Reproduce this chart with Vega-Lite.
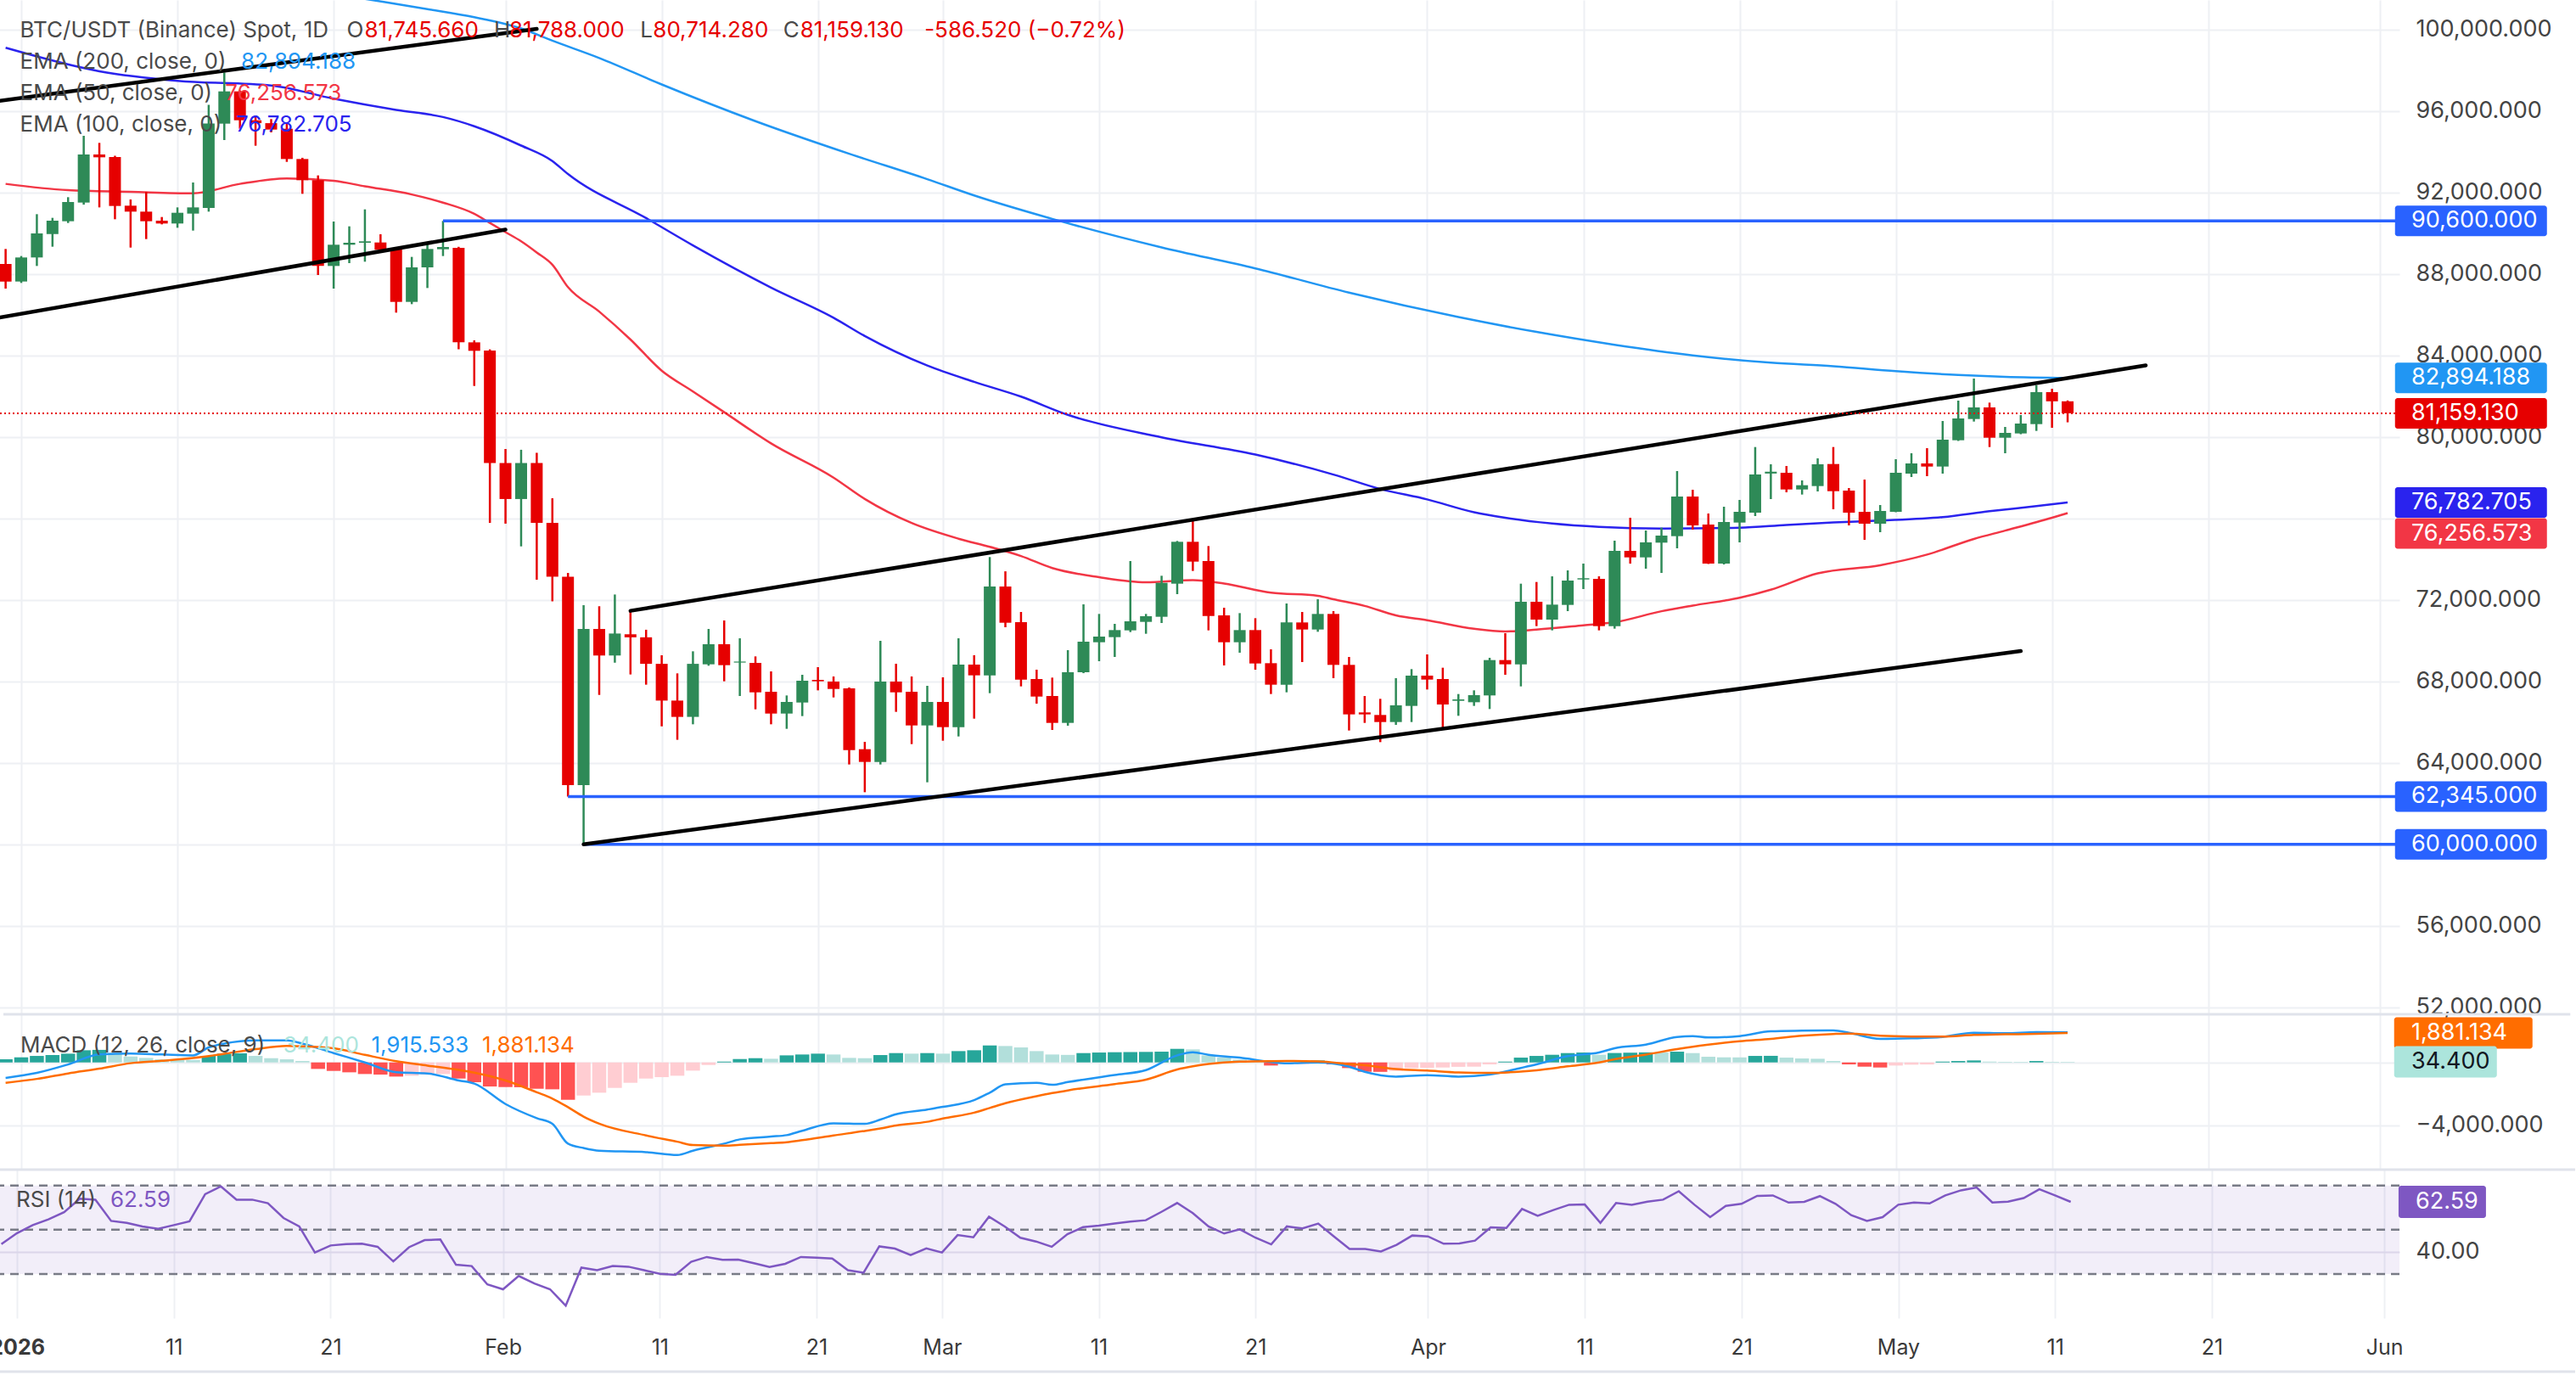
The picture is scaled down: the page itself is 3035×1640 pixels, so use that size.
{
"$schema": "https://vega.github.io/schema/vega-lite/v6.json",
"background": "white",
"padding": {"left": -13, "top": 0, "right": 0, "bottom": 0},
"bounds": "flush",
"spacing": 0,
"config": {"view": {"stroke": null}, "font": "Inter"},
"resolve": {"scale": {"x": "independent", "y": "independent", "color": "independent"}},
"datasets": {
"one": [{"k": 1}],
"candles": [
{"date":"2025-12-31","open":88488,"high":89224,"low":87279,"close":87626},
{"date":"2026-01-01","open":87626,"high":88877,"low":87557,"close":88807},
{"date":"2026-01-02","open":88807,"high":90932,"low":88390,"close":89988},
{"date":"2026-01-03","open":89960,"high":90752,"low":89335,"close":90613},
{"date":"2026-01-04","open":90585,"high":91766,"low":90500,"close":91529},
{"date":"2026-01-05","open":91502,"high":94779,"low":91400,"close":93863},
{"date":"2026-01-06","open":93863,"high":94432,"low":91265,"close":93724},
{"date":"2026-01-07","open":93738,"high":93800,"low":90682,"close":91335},
{"date":"2026-01-08","open":91349,"high":91654,"low":89293,"close":91057},
{"date":"2026-01-09","open":91057,"high":92029,"low":89710,"close":90585},
{"date":"2026-01-10","open":90613,"high":90793,"low":90432,"close":90474},
{"date":"2026-01-11","open":90474,"high":91265,"low":90265,"close":91001},
{"date":"2026-01-12","open":90960,"high":92488,"low":90126,"close":91265},
{"date":"2026-01-13","open":91237,"high":96300,"low":91057,"close":95380},
{"date":"2026-01-14","open":95376,"high":97890,"low":94571,"close":96960},
{"date":"2026-01-15","open":96960,"high":97000,"low":95126,"close":95543},
{"date":"2026-01-16","open":95543,"high":95700,"low":94293,"close":95400},
{"date":"2026-01-17","open":95400,"high":95600,"low":94950,"close":95085},
{"date":"2026-01-18","open":95126,"high":95400,"low":93500,"close":93640},
{"date":"2026-01-19","open":93640,"high":93700,"low":91932,"close":92599},
{"date":"2026-01-20","open":92599,"high":92835,"low":87946,"close":88390},
{"date":"2026-01-21","open":88390,"high":90571,"low":87279,"close":89432},
{"date":"2026-01-22","open":89432,"high":90335,"low":88529,"close":89529},
{"date":"2026-01-23","open":89529,"high":91168,"low":88599,"close":89599},
{"date":"2026-01-24","open":89543,"high":89946,"low":89100,"close":89182},
{"date":"2026-01-25","open":89196,"high":89300,"low":86099,"close":86626},
{"date":"2026-01-26","open":86626,"high":88835,"low":86515,"close":88321},
{"date":"2026-01-27","open":88321,"high":89529,"low":87307,"close":89224},
{"date":"2026-01-28","open":89210,"high":90600,"low":88877,"close":89321},
{"date":"2026-01-29","open":89280,"high":89330,"low":84300,"close":84640},
{"date":"2026-01-30","open":84640,"high":84738,"low":82500,"close":84224},
{"date":"2026-01-31","open":84240,"high":84296,"low":75777,"close":78716},
{"date":"2026-02-01","open":78716,"high":79404,"low":75740,"close":76949},
{"date":"2026-02-02","open":76949,"high":79367,"low":74624,"close":78716},
{"date":"2026-02-03","open":78716,"high":79218,"low":72988,"close":75777},
{"date":"2026-02-04","open":75777,"high":76986,"low":71927,"close":73136},
{"date":"2026-02-05","open":73136,"high":73322,"low":62345,"close":62906},
{"date":"2026-02-06","open":62906,"high":71741,"low":60000,"close":70569},
{"date":"2026-02-07","open":70569,"high":71685,"low":67333,"close":69267},
{"date":"2026-02-08","open":69267,"high":72262,"low":68914,"close":70346},
{"date":"2026-02-09","open":70309,"high":71462,"low":68337,"close":70160},
{"date":"2026-02-10","open":70160,"high":70532,"low":67835,"close":68858},
{"date":"2026-02-11","open":68858,"high":69279,"low":65789,"close":67054},
{"date":"2026-02-12","open":67054,"high":68390,"low":65130,"close":66254},
{"date":"2026-02-13","open":66254,"high":69473,"low":65890,"close":68858},
{"date":"2026-02-14","open":68834,"high":70570,"low":68765,"close":69820},
{"date":"2026-02-15","open":69820,"high":70987,"low":68001,"close":68793},
{"date":"2026-02-16","open":68920,"high":70112,"low":67279,"close":68970},
{"date":"2026-02-17","open":68904,"high":69223,"low":66626,"close":67459},
{"date":"2026-02-18","open":67487,"high":68487,"low":65890,"close":66417},
{"date":"2026-02-19","open":66417,"high":67306,"low":65668,"close":66987},
{"date":"2026-02-20","open":66959,"high":68320,"low":66293,"close":68029},
{"date":"2026-02-21","open":68070,"high":68696,"low":67556,"close":68001},
{"date":"2026-02-22","open":67987,"high":68237,"low":67209,"close":67626},
{"date":"2026-02-23","open":67654,"high":67700,"low":63918,"close":64626},
{"date":"2026-02-24","open":64668,"high":65029,"low":62556,"close":64043},
{"date":"2026-02-25","open":64043,"high":69987,"low":63918,"close":67987},
{"date":"2026-02-26","open":67987,"high":68862,"low":66501,"close":67459},
{"date":"2026-02-27","open":67487,"high":68237,"low":64918,"close":65834},
{"date":"2026-02-28","open":65834,"high":67779,"low":63043,"close":66987},
{"date":"2026-03-01","open":66987,"high":68195,"low":65084,"close":65751},
{"date":"2026-03-02","open":65751,"high":70112,"low":65293,"close":68820},
{"date":"2026-03-03","open":68820,"high":69279,"low":66168,"close":68293},
{"date":"2026-03-04","open":68293,"high":74100,"low":67418,"close":72654},
{"date":"2026-03-05","open":72654,"high":73400,"low":70654,"close":70876},
{"date":"2026-03-06","open":70904,"high":71404,"low":67751,"close":68084},
{"date":"2026-03-07","open":68112,"high":68571,"low":66904,"close":67251},
{"date":"2026-03-08","open":67279,"high":68182,"low":65612,"close":65959},
{"date":"2026-03-09","open":65959,"high":69529,"low":65821,"close":68446},
{"date":"2026-03-10","open":68446,"high":71779,"low":68400,"close":69946},
{"date":"2026-03-11","open":69918,"high":71307,"low":68987,"close":70196},
{"date":"2026-03-12","open":70168,"high":70821,"low":69196,"close":70515},
{"date":"2026-03-13","open":70501,"high":73904,"low":70418,"close":70946},
{"date":"2026-03-14","open":70918,"high":71307,"low":70334,"close":71196},
{"date":"2026-03-15","open":71168,"high":73182,"low":70862,"close":72835},
{"date":"2026-03-16","open":72793,"high":74890,"low":72279,"close":74849},
{"date":"2026-03-17","open":74849,"high":75960,"low":73418,"close":73876},
{"date":"2026-03-18","open":73904,"high":74640,"low":70501,"close":71210},
{"date":"2026-03-19","open":71237,"high":71612,"low":68779,"close":69918},
{"date":"2026-03-20","open":69918,"high":71348,"low":69404,"close":70515},
{"date":"2026-03-21","open":70515,"high":71098,"low":68571,"close":68876},
{"date":"2026-03-22","open":68890,"high":69571,"low":67376,"close":67835},
{"date":"2026-03-23","open":67835,"high":71821,"low":67460,"close":70890},
{"date":"2026-03-24","open":70890,"high":71404,"low":68946,"close":70543},
{"date":"2026-03-25","open":70543,"high":72029,"low":70432,"close":71307},
{"date":"2026-03-26","open":71307,"high":71446,"low":68154,"close":68807},
{"date":"2026-03-27","open":68807,"high":69196,"low":65585,"close":66376},
{"date":"2026-03-28","open":66473,"high":67279,"low":65959,"close":66376},
{"date":"2026-03-29","open":66348,"high":67140,"low":65015,"close":66001},
{"date":"2026-03-30","open":66001,"high":68154,"low":65862,"close":66821},
{"date":"2026-03-31","open":66793,"high":68599,"low":66001,"close":68279},
{"date":"2026-04-01","open":68279,"high":69321,"low":67598,"close":68085},
{"date":"2026-04-02","open":68112,"high":68668,"low":65723,"close":66862},
{"date":"2026-04-03","open":67043,"high":67376,"low":66307,"close":67112},
{"date":"2026-04-04","open":66973,"high":67557,"low":66793,"close":67321},
{"date":"2026-04-05","open":67307,"high":69154,"low":66640,"close":69043},
{"date":"2026-04-06","open":69043,"high":70362,"low":68321,"close":68835},
{"date":"2026-04-07","open":68835,"high":72793,"low":67751,"close":71904},
{"date":"2026-04-08","open":71904,"high":72876,"low":70710,"close":71029},
{"date":"2026-04-09","open":71029,"high":73154,"low":70501,"close":71765},
{"date":"2026-04-10","open":71751,"high":73446,"low":71446,"close":72946},
{"date":"2026-04-11","open":73000,"high":73779,"low":72529,"close":73060},
{"date":"2026-04-12","open":73029,"high":73154,"low":70501,"close":70710},
{"date":"2026-04-13","open":70710,"high":74904,"low":70585,"close":74404},
{"date":"2026-04-14","open":74404,"high":76029,"low":73779,"close":74084},
{"date":"2026-04-15","open":74084,"high":75404,"low":73529,"close":74821},
{"date":"2026-04-16","open":74807,"high":75543,"low":73321,"close":75154},
{"date":"2026-04-17","open":75126,"high":78321,"low":74529,"close":77071},
{"date":"2026-04-18","open":77071,"high":77404,"low":75446,"close":75654},
{"date":"2026-04-19","open":75696,"high":76237,"low":73760,"close":73779},
{"date":"2026-04-20","open":73779,"high":76571,"low":73737,"close":75821},
{"date":"2026-04-21","open":75793,"high":76904,"low":74821,"close":76321},
{"date":"2026-04-22","open":76279,"high":79501,"low":76112,"close":78154},
{"date":"2026-04-23","open":78200,"high":78654,"low":76946,"close":78290},
{"date":"2026-04-24","open":78237,"high":78571,"low":77279,"close":77418},
{"date":"2026-04-25","open":77418,"high":77862,"low":77168,"close":77626},
{"date":"2026-04-26","open":77585,"high":78946,"low":77321,"close":78654},
{"date":"2026-04-27","open":78667,"high":79501,"low":76445,"close":77334},
{"date":"2026-04-28","open":77362,"high":77487,"low":75654,"close":76279},
{"date":"2026-04-29","open":76320,"high":77904,"low":74945,"close":75737},
{"date":"2026-04-30","open":75737,"high":76654,"low":75320,"close":76362},
{"date":"2026-05-01","open":76320,"high":78904,"low":76300,"close":78237},
{"date":"2026-05-02","open":78195,"high":79195,"low":78029,"close":78695},
{"date":"2026-05-03","open":78695,"high":79445,"low":78070,"close":78543},
{"date":"2026-05-04","open":78543,"high":80779,"low":78195,"close":79862},
{"date":"2026-05-05","open":79834,"high":81779,"low":79800,"close":80904},
{"date":"2026-05-06","open":80876,"high":82862,"low":80751,"close":81445},
{"date":"2026-05-07","open":81445,"high":81681,"low":79501,"close":79959},
{"date":"2026-05-08","open":79959,"high":80487,"low":79195,"close":80195},
{"date":"2026-05-09","open":80168,"high":81070,"low":80130,"close":80654},
{"date":"2026-05-10","open":80626,"high":82529,"low":80293,"close":82195},
{"date":"2026-05-11","open":82195,"high":82362,"low":80445,"close":81745.66},
{"date":"2026-05-12","open":81745.66,"high":81788,"low":80714.28,"close":81159.13}
],
"ema": [
{"series":"EMA 200","date":"2025-12-31","value":104200},
{"series":"EMA 200","date":"2026-01-09","value":103100},
{"series":"EMA 200","date":"2026-01-17","value":102250},
{"series":"EMA 200","date":"2026-01-23","value":101500},
{"series":"EMA 200","date":"2026-01-27","value":101000},
{"series":"EMA 200","date":"2026-01-30","value":100600},
{"series":"EMA 200","date":"2026-02-02","value":100050},
{"series":"EMA 200","date":"2026-02-04","value":99450},
{"series":"EMA 200","date":"2026-02-07","value":98600},
{"series":"EMA 200","date":"2026-02-11","value":97300},
{"series":"EMA 200","date":"2026-02-17","value":95500},
{"series":"EMA 200","date":"2026-02-23","value":93900},
{"series":"EMA 200","date":"2026-02-28","value":92650},
{"series":"EMA 200","date":"2026-03-03","value":91850},
{"series":"EMA 200","date":"2026-03-08","value":90700},
{"series":"EMA 200","date":"2026-03-15","value":89300},
{"series":"EMA 200","date":"2026-03-21","value":88270},
{"series":"EMA 200","date":"2026-03-27","value":87080},
{"series":"EMA 200","date":"2026-04-03","value":85880},
{"series":"EMA 200","date":"2026-04-08","value":85150},
{"series":"EMA 200","date":"2026-04-13","value":84520},
{"series":"EMA 200","date":"2026-04-18","value":84000},
{"series":"EMA 200","date":"2026-04-23","value":83640},
{"series":"EMA 200","date":"2026-04-27","value":83470},
{"series":"EMA 200","date":"2026-05-01","value":83225},
{"series":"EMA 200","date":"2026-05-05","value":83040},
{"series":"EMA 200","date":"2026-05-08","value":82950},
{"series":"EMA 200","date":"2026-05-12","value":82894.188},
{"series":"EMA 100","date":"2025-12-31","value":99100},
{"series":"EMA 100","date":"2026-01-06","value":97950},
{"series":"EMA 100","date":"2026-01-11","value":97480},
{"series":"EMA 100","date":"2026-01-17","value":97250},
{"series":"EMA 100","date":"2026-01-21","value":96600},
{"series":"EMA 100","date":"2026-01-25","value":96050},
{"series":"EMA 100","date":"2026-01-28","value":95700},
{"series":"EMA 100","date":"2026-01-30","value":95250},
{"series":"EMA 100","date":"2026-02-02","value":94300},
{"series":"EMA 100","date":"2026-02-04","value":93540},
{"series":"EMA 100","date":"2026-02-05","value":92900},
{"series":"EMA 100","date":"2026-02-10","value":90740},
{"series":"EMA 100","date":"2026-02-13","value":89400},
{"series":"EMA 100","date":"2026-02-18","value":87330},
{"series":"EMA 100","date":"2026-02-22","value":85850},
{"series":"EMA 100","date":"2026-02-24","value":84950},
{"series":"EMA 100","date":"2026-02-28","value":83500},
{"series":"EMA 100","date":"2026-03-03","value":82700},
{"series":"EMA 100","date":"2026-03-06","value":81975},
{"series":"EMA 100","date":"2026-03-09","value":81080},
{"series":"EMA 100","date":"2026-03-15","value":79980},
{"series":"EMA 100","date":"2026-03-21","value":79130},
{"series":"EMA 100","date":"2026-03-26","value":78150},
{"series":"EMA 100","date":"2026-03-29","value":77440},
{"series":"EMA 100","date":"2026-04-01","value":76930},
{"series":"EMA 100","date":"2026-04-04","value":76300},
{"series":"EMA 100","date":"2026-04-06","value":76030},
{"series":"EMA 100","date":"2026-04-09","value":75750},
{"series":"EMA 100","date":"2026-04-12","value":75584},
{"series":"EMA 100","date":"2026-04-16","value":75500},
{"series":"EMA 100","date":"2026-04-21","value":75540},
{"series":"EMA 100","date":"2026-04-24","value":75680},
{"series":"EMA 100","date":"2026-04-27","value":75800},
{"series":"EMA 100","date":"2026-04-30","value":75890},
{"series":"EMA 100","date":"2026-05-04","value":76060},
{"series":"EMA 100","date":"2026-05-07","value":76350},
{"series":"EMA 100","date":"2026-05-10","value":76600},
{"series":"EMA 100","date":"2026-05-12","value":76782.705},
{"series":"EMA 50","date":"2025-12-31","value":92420},
{"series":"EMA 50","date":"2026-01-04","value":92110},
{"series":"EMA 50","date":"2026-01-08","value":92030},
{"series":"EMA 50","date":"2026-01-12","value":91960},
{"series":"EMA 50","date":"2026-01-15","value":92420},
{"series":"EMA 50","date":"2026-01-18","value":92690},
{"series":"EMA 50","date":"2026-01-21","value":92570},
{"series":"EMA 50","date":"2026-01-23","value":92300},
{"series":"EMA 50","date":"2026-01-26","value":91900},
{"series":"EMA 50","date":"2026-01-28","value":91500},
{"series":"EMA 50","date":"2026-01-30","value":90950},
{"series":"EMA 50","date":"2026-01-31","value":90500},
{"series":"EMA 50","date":"2026-02-01","value":90050},
{"series":"EMA 50","date":"2026-02-02","value":89600},
{"series":"EMA 50","date":"2026-02-03","value":89050},
{"series":"EMA 50","date":"2026-02-04","value":88450},
{"series":"EMA 50","date":"2026-02-05","value":87350},
{"series":"EMA 50","date":"2026-02-07","value":86150},
{"series":"EMA 50","date":"2026-02-09","value":84780},
{"series":"EMA 50","date":"2026-02-11","value":83250},
{"series":"EMA 50","date":"2026-02-13","value":82230},
{"series":"EMA 50","date":"2026-02-15","value":81210},
{"series":"EMA 50","date":"2026-02-18","value":79680},
{"series":"EMA 50","date":"2026-02-22","value":78000},
{"series":"EMA 50","date":"2026-02-24","value":76950},
{"series":"EMA 50","date":"2026-02-27","value":75770},
{"series":"EMA 50","date":"2026-03-02","value":75000},
{"series":"EMA 50","date":"2026-03-04","value":74600},
{"series":"EMA 50","date":"2026-03-06","value":74150},
{"series":"EMA 50","date":"2026-03-08","value":73560},
{"series":"EMA 50","date":"2026-03-11","value":73110},
{"series":"EMA 50","date":"2026-03-14","value":72860},
{"series":"EMA 50","date":"2026-03-17","value":72970},
{"series":"EMA 50","date":"2026-03-19","value":72800},
{"series":"EMA 50","date":"2026-03-22","value":72350},
{"series":"EMA 50","date":"2026-03-25","value":72200},
{"series":"EMA 50","date":"2026-03-26","value":72030},
{"series":"EMA 50","date":"2026-03-28","value":71700},
{"series":"EMA 50","date":"2026-03-30","value":71240},
{"series":"EMA 50","date":"2026-04-01","value":71000},
{"series":"EMA 50","date":"2026-04-04","value":70580},
{"series":"EMA 50","date":"2026-04-06","value":70450},
{"series":"EMA 50","date":"2026-04-08","value":70540},
{"series":"EMA 50","date":"2026-04-11","value":70750},
{"series":"EMA 50","date":"2026-04-13","value":70900},
{"series":"EMA 50","date":"2026-04-16","value":71440},
{"series":"EMA 50","date":"2026-04-18","value":71720},
{"series":"EMA 50","date":"2026-04-21","value":72100},
{"series":"EMA 50","date":"2026-04-23","value":72500},
{"series":"EMA 50","date":"2026-04-26","value":73300},
{"series":"EMA 50","date":"2026-04-30","value":73700},
{"series":"EMA 50","date":"2026-05-03","value":74220},
{"series":"EMA 50","date":"2026-05-06","value":74990},
{"series":"EMA 50","date":"2026-05-08","value":75400},
{"series":"EMA 50","date":"2026-05-11","value":76030},
{"series":"EMA 50","date":"2026-05-12","value":76256.573}
],
"levels": [
{"start":"2026-01-28","value":90600},
{"start":"2026-02-05","value":62345},
{"start":"2026-02-06","value":60000}
],
"trend": [
{"id":"jan_upper","date":"2025-12-30","price":96429},
{"id":"jan_upper","date":"2026-02-03","price":100027},
{"id":"jan_lower","date":"2025-12-30","price":85778},
{"id":"jan_lower","date":"2026-02-01","price":90174},
{"id":"ch_upper","date":"2026-02-09","price":71462},
{"id":"ch_upper","date":"2026-05-17","price":83510},
{"id":"ch_lower","date":"2026-02-06","price":60000},
{"id":"ch_lower","date":"2026-05-09","price":69490}
],
"tags": [
{"name":"level1","value":90600,"label":"90,600.000"},
{"name":"ema200","value":82894.188,"label":"82,894.188"},
{"name":"last","value":81159.13,"label":"81,159.130"},
{"name":"ema100","value":76782.705,"label":"76,782.705"},
{"name":"ema50","value":76256.573,"label":"76,256.573"},
{"name":"level2","value":62345,"label":"62,345.000"},
{"name":"level3","value":60000,"label":"60,000.000"}
],
"macd": [
{"date":"2025-12-31","macd":-990,"signal":-1300},
{"date":"2026-01-02","macd":-667,"signal":-1050},
{"date":"2026-01-04","macd":-130,"signal":-700},
{"date":"2026-01-06","macd":505,"signal":-396},
{"date":"2026-01-08","macd":559,"signal":-50},
{"date":"2026-01-10","macd":505,"signal":100},
{"date":"2026-01-12","macd":450,"signal":280},
{"date":"2026-01-13","macd":955,"signal":400},
{"date":"2026-01-14","macd":1200,"signal":550},
{"date":"2026-01-16","macd":1405,"signal":850},
{"date":"2026-01-18","macd":1405,"signal":1050},
{"date":"2026-01-19","macd":1200,"signal":1030},
{"date":"2026-01-21","macd":595,"signal":900},
{"date":"2026-01-23","macd":0,"signal":480},
{"date":"2026-01-25","macd":-620,"signal":80},
{"date":"2026-01-27","macd":-700,"signal":-200},
{"date":"2026-01-29","macd":-1150,"signal":-480},
{"date":"2026-01-30","macd":-1350,"signal":-650},
{"date":"2026-02-01","macd":-2649,"signal":-1150},
{"date":"2026-02-03","macd":-3550,"signal":-1900},
{"date":"2026-02-04","macd":-3910,"signal":-2300},
{"date":"2026-02-05","macd":-5172,"signal":-2850},
{"date":"2026-02-06","macd":-5450,"signal":-3450},
{"date":"2026-02-07","macd":-5622,"signal":-3900},
{"date":"2026-02-10","macd":-5712,"signal":-4650},
{"date":"2026-02-12","macd":-5892,"signal":-5050},
{"date":"2026-02-13","macd":-5622,"signal":-5262},
{"date":"2026-02-15","macd":-5172,"signal":-5298},
{"date":"2026-02-16","macd":-4901,"signal":-5250},
{"date":"2026-02-18","macd":-4721,"signal":-5136},
{"date":"2026-02-19","macd":-4631,"signal":-5080},
{"date":"2026-02-20","macd":-4350,"signal":-4950},
{"date":"2026-02-22","macd":-3874,"signal":-4650},
{"date":"2026-02-24","macd":-3910,"signal":-4361},
{"date":"2026-02-25","macd":-3640,"signal":-4200},
{"date":"2026-02-26","macd":-3300,"signal":-4020},
{"date":"2026-02-28","macd":-3000,"signal":-3780},
{"date":"2026-03-01","macd":-2829,"signal":-3570},
{"date":"2026-03-03","macd":-2400,"signal":-3200},
{"date":"2026-03-04","macd":-1928,"signal":-2900},
{"date":"2026-03-05","macd":-1400,"signal":-2600},
{"date":"2026-03-07","macd":-1297,"signal":-2150},
{"date":"2026-03-08","macd":-1424,"signal":-1950},
{"date":"2026-03-09","macd":-1250,"signal":-1780},
{"date":"2026-03-12","macd":-800,"signal":-1380},
{"date":"2026-03-14","macd":-487,"signal":-1100},
{"date":"2026-03-16","macd":450,"signal":-450},
{"date":"2026-03-17","macd":650,"signal":-250},
{"date":"2026-03-18","macd":487,"signal":-100},
{"date":"2026-03-20","macd":306,"signal":54},
{"date":"2026-03-22","macd":30,"signal":85},
{"date":"2026-03-23","macd":-54,"signal":90},
{"date":"2026-03-25","macd":0,"signal":60},
{"date":"2026-03-27","macd":-270,"signal":-100},
{"date":"2026-03-28","macd":-600,"signal":-180},
{"date":"2026-03-30","macd":-901,"signal":-420},
{"date":"2026-04-01","macd":-811,"signal":-520},
{"date":"2026-04-03","macd":-901,"signal":-640},
{"date":"2026-04-05","macd":-775,"signal":-667},
{"date":"2026-04-07","macd":-350,"signal":-580},
{"date":"2026-04-08","macd":-126,"signal":-500},
{"date":"2026-04-10","macd":400,"signal":-250},
{"date":"2026-04-12","macd":631,"signal":0},
{"date":"2026-04-13","macd":901,"signal":200},
{"date":"2026-04-15","macd":1135,"signal":500},
{"date":"2026-04-17","macd":1622,"signal":850},
{"date":"2026-04-18","macd":1676,"signal":1000},
{"date":"2026-04-19","macd":1586,"signal":1130},
{"date":"2026-04-21","macd":1676,"signal":1350},
{"date":"2026-04-23","macd":1982,"signal":1500},
{"date":"2026-04-25","macd":2018,"signal":1700},
{"date":"2026-04-27","macd":2036,"signal":1810},
{"date":"2026-04-28","macd":1892,"signal":1838},
{"date":"2026-04-30","macd":1496,"signal":1700},
{"date":"2026-05-02","macd":1532,"signal":1650},
{"date":"2026-05-04","macd":1622,"signal":1640},
{"date":"2026-05-06","macd":1892,"signal":1750},
{"date":"2026-05-08","macd":1856,"signal":1790},
{"date":"2026-05-10","macd":1928,"signal":1820},
{"date":"2026-05-12","macd":1915.533,"signal":1881.134}
],
"hist": [
{"date":"2025-12-31","h":198},{"date":"2026-01-01","h":324},{"date":"2026-01-02","h":414},{"date":"2026-01-03","h":469},{"date":"2026-01-04","h":559},{"date":"2026-01-05","h":775},{"date":"2026-01-06","h":800},{"date":"2026-01-07","h":595},{"date":"2026-01-08","h":378},{"date":"2026-01-09","h":288},{"date":"2026-01-10","h":198},{"date":"2026-01-11","h":180},{"date":"2026-01-12","h":150},{"date":"2026-01-13","h":414},{"date":"2026-01-14","h":559},{"date":"2026-01-15","h":580},{"date":"2026-01-16","h":414},{"date":"2026-01-17","h":270},{"date":"2026-01-18","h":198},{"date":"2026-01-19","h":90},{"date":"2026-01-20","h":-414},{"date":"2026-01-21","h":-540},{"date":"2026-01-22","h":-630},{"date":"2026-01-23","h":-739},{"date":"2026-01-24","h":-775},{"date":"2026-01-25","h":-901},{"date":"2026-01-26","h":-847},{"date":"2026-01-27","h":-775},{"date":"2026-01-28","h":-740},{"date":"2026-01-29","h":-1027},{"date":"2026-01-30","h":-1261},{"date":"2026-01-31","h":-1532},
{"date":"2026-02-01","h":-1568},{"date":"2026-02-02","h":-1580},{"date":"2026-02-03","h":-1676},{"date":"2026-02-04","h":-1712},{"date":"2026-02-05","h":-2379},{"date":"2026-02-06","h":-2108},{"date":"2026-02-07","h":-1928},{"date":"2026-02-08","h":-1622},{"date":"2026-02-09","h":-1297},{"date":"2026-02-10","h":-1027},{"date":"2026-02-11","h":-937},{"date":"2026-02-12","h":-847},{"date":"2026-02-13","h":-523},{"date":"2026-02-14","h":-162},{"date":"2026-02-15","h":54},{"date":"2026-02-16","h":216},{"date":"2026-02-17","h":270},{"date":"2026-02-18","h":234},{"date":"2026-02-19","h":450},{"date":"2026-02-20","h":505},{"date":"2026-02-21","h":559},{"date":"2026-02-22","h":505},{"date":"2026-02-23","h":288},{"date":"2026-02-24","h":270},{"date":"2026-02-25","h":469},{"date":"2026-02-26","h":595},{"date":"2026-02-27","h":559},{"date":"2026-02-28","h":595},
{"date":"2026-03-01","h":559},{"date":"2026-03-02","h":721},{"date":"2026-03-03","h":775},{"date":"2026-03-04","h":1081},{"date":"2026-03-05","h":1045},{"date":"2026-03-06","h":955},{"date":"2026-03-07","h":721},{"date":"2026-03-08","h":505},{"date":"2026-03-09","h":480},{"date":"2026-03-10","h":595},{"date":"2026-03-11","h":630},{"date":"2026-03-12","h":650},{"date":"2026-03-13","h":660},{"date":"2026-03-14","h":670},{"date":"2026-03-15","h":685},{"date":"2026-03-16","h":865},{"date":"2026-03-17","h":830},{"date":"2026-03-18","h":450},{"date":"2026-03-19","h":306},{"date":"2026-03-20","h":180},{"date":"2026-03-21","h":90},{"date":"2026-03-22","h":-198},{"date":"2026-03-23","h":-126},{"date":"2026-03-24","h":-100},{"date":"2026-03-25","h":126},{"date":"2026-03-26","h":-126},{"date":"2026-03-27","h":-360},{"date":"2026-03-28","h":-595},{"date":"2026-03-29","h":-600},{"date":"2026-03-30","h":-540},{"date":"2026-03-31","h":-360},
{"date":"2026-04-01","h":-340},{"date":"2026-04-02","h":-324},{"date":"2026-04-03","h":-280},{"date":"2026-04-04","h":-270},{"date":"2026-04-05","h":-126},{"date":"2026-04-06","h":54},{"date":"2026-04-07","h":306},{"date":"2026-04-08","h":414},{"date":"2026-04-09","h":487},{"date":"2026-04-10","h":595},{"date":"2026-04-11","h":631},{"date":"2026-04-12","h":487},{"date":"2026-04-13","h":600},{"date":"2026-04-14","h":620},{"date":"2026-04-15","h":640},{"date":"2026-04-16","h":630},{"date":"2026-04-17","h":685},{"date":"2026-04-18","h":595},{"date":"2026-04-19","h":360},{"date":"2026-04-20","h":324},{"date":"2026-04-21","h":320},{"date":"2026-04-22","h":414},{"date":"2026-04-23","h":420},{"date":"2026-04-24","h":306},{"date":"2026-04-25","h":252},{"date":"2026-04-26","h":234},{"date":"2026-04-27","h":90},{"date":"2026-04-28","h":-126},{"date":"2026-04-29","h":-270},{"date":"2026-04-30","h":-324},
{"date":"2026-05-01","h":-198},{"date":"2026-05-02","h":-144},{"date":"2026-05-03","h":-130},{"date":"2026-05-04","h":54},{"date":"2026-05-05","h":90},{"date":"2026-05-06","h":126},{"date":"2026-05-07","h":54},{"date":"2026-05-08","h":40},{"date":"2026-05-09","h":36},{"date":"2026-05-10","h":90},{"date":"2026-05-11","h":40},{"date":"2026-05-12","h":34.4}
],
"rsi": [
{"date":"2025-12-31","rsi":43.5},{"date":"2026-01-01","rsi":48.5},{"date":"2026-01-02","rsi":52.1},{"date":"2026-01-03","rsi":54.7},{"date":"2026-01-04","rsi":57.9},{"date":"2026-01-05","rsi":64.0},{"date":"2026-01-06","rsi":63.6},{"date":"2026-01-07","rsi":54.0},{"date":"2026-01-08","rsi":53.1},{"date":"2026-01-09","rsi":51.5},{"date":"2026-01-10","rsi":50.4},{"date":"2026-01-11","rsi":52.1},{"date":"2026-01-12","rsi":53.8},{"date":"2026-01-13","rsi":66.1},{"date":"2026-01-14","rsi":69.6},{"date":"2026-01-15","rsi":63.6},{"date":"2026-01-16","rsi":63.6},{"date":"2026-01-17","rsi":62.0},{"date":"2026-01-18","rsi":55.3},{"date":"2026-01-19","rsi":51.5},{"date":"2026-01-20","rsi":39.7},{"date":"2026-01-21","rsi":42.9},{"date":"2026-01-22","rsi":43.5},{"date":"2026-01-23","rsi":43.7},{"date":"2026-01-24","rsi":42.3},{"date":"2026-01-25","rsi":35.7},{"date":"2026-01-26","rsi":42.1},{"date":"2026-01-27","rsi":45.3},{"date":"2026-01-28","rsi":45.6},{"date":"2026-01-29","rsi":34.2},{"date":"2026-01-30","rsi":33.6},{"date":"2026-01-31","rsi":25.3},
{"date":"2026-02-01","rsi":23.1},{"date":"2026-02-02","rsi":29.1},{"date":"2026-02-03","rsi":25.7},{"date":"2026-02-04","rsi":23.1},{"date":"2026-02-05","rsi":15.7},{"date":"2026-02-06","rsi":32.9},{"date":"2026-02-07","rsi":31.7},{"date":"2026-02-08","rsi":33.6},{"date":"2026-02-09","rsi":33.3},{"date":"2026-02-10","rsi":31.7},{"date":"2026-02-11","rsi":30.1},{"date":"2026-02-12","rsi":29.6},{"date":"2026-02-13","rsi":35.5},{"date":"2026-02-14","rsi":37.7},{"date":"2026-02-15","rsi":36.4},{"date":"2026-02-16","rsi":36.5},{"date":"2026-02-17","rsi":34.9},{"date":"2026-02-18","rsi":33.2},{"date":"2026-02-19","rsi":34.6},{"date":"2026-02-20","rsi":37.7},{"date":"2026-02-21","rsi":37.4},{"date":"2026-02-22","rsi":37.0},{"date":"2026-02-23","rsi":31.7},{"date":"2026-02-24","rsi":30.6},{"date":"2026-02-25","rsi":42.5},{"date":"2026-02-26","rsi":41.5},{"date":"2026-02-27","rsi":38.6},{"date":"2026-02-28","rsi":41.6},
{"date":"2026-03-01","rsi":39.7},{"date":"2026-03-02","rsi":47.6},{"date":"2026-03-03","rsi":46.6},{"date":"2026-03-04","rsi":55.9},{"date":"2026-03-05","rsi":51.5},{"date":"2026-03-06","rsi":46.4},{"date":"2026-03-07","rsi":44.7},{"date":"2026-03-08","rsi":42.3},{"date":"2026-03-09","rsi":48.0},{"date":"2026-03-10","rsi":51.2},{"date":"2026-03-11","rsi":51.9},{"date":"2026-03-12","rsi":52.8},{"date":"2026-03-13","rsi":53.7},{"date":"2026-03-14","rsi":54.3},{"date":"2026-03-15","rsi":58.1},{"date":"2026-03-16","rsi":62.1},{"date":"2026-03-17","rsi":57.5},{"date":"2026-03-18","rsi":51.5},{"date":"2026-03-19","rsi":48.3},{"date":"2026-03-20","rsi":50.2},{"date":"2026-03-21","rsi":46.4},{"date":"2026-03-22","rsi":43.4},{"date":"2026-03-23","rsi":51.5},{"date":"2026-03-24","rsi":50.6},{"date":"2026-03-25","rsi":52.8},{"date":"2026-03-26","rsi":47.0},{"date":"2026-03-27","rsi":41.3},{"date":"2026-03-28","rsi":41.3},{"date":"2026-03-29","rsi":40.2},{"date":"2026-03-30","rsi":43.2},{"date":"2026-03-31","rsi":47.4},
{"date":"2026-04-01","rsi":47.0},{"date":"2026-04-02","rsi":43.7},{"date":"2026-04-03","rsi":43.8},{"date":"2026-04-04","rsi":45.1},{"date":"2026-04-05","rsi":51.1},{"date":"2026-04-06","rsi":50.8},{"date":"2026-04-07","rsi":59.4},{"date":"2026-04-08","rsi":56.3},{"date":"2026-04-09","rsi":58.9},{"date":"2026-04-10","rsi":61.3},{"date":"2026-04-11","rsi":61.4},{"date":"2026-04-12","rsi":53.1},{"date":"2026-04-13","rsi":62.1},{"date":"2026-04-14","rsi":61.3},{"date":"2026-04-15","rsi":62.7},{"date":"2026-04-16","rsi":63.6},{"date":"2026-04-17","rsi":67.4},{"date":"2026-04-18","rsi":61.3},{"date":"2026-04-19","rsi":55.7},{"date":"2026-04-20","rsi":60.8},{"date":"2026-04-21","rsi":61.7},{"date":"2026-04-22","rsi":65.3},{"date":"2026-04-23","rsi":65.5},{"date":"2026-04-24","rsi":62.3},{"date":"2026-04-25","rsi":62.6},{"date":"2026-04-26","rsi":65.2},{"date":"2026-04-27","rsi":61.7},{"date":"2026-04-28","rsi":56.6},{"date":"2026-04-29","rsi":54.0},{"date":"2026-04-30","rsi":55.7},
{"date":"2026-05-01","rsi":61.3},{"date":"2026-05-02","rsi":62.3},{"date":"2026-05-03","rsi":61.9},{"date":"2026-05-04","rsi":65.5},{"date":"2026-05-05","rsi":67.8},{"date":"2026-05-06","rsi":69.1},{"date":"2026-05-07","rsi":62.3},{"date":"2026-05-08","rsi":62.7},{"date":"2026-05-09","rsi":64.3},{"date":"2026-05-10","rsi":68.3},{"date":"2026-05-11","rsi":65.5},{"date":"2026-05-12","rsi":62.59}
],
"rsiLevels": [{"level":70},{"level":50},{"level":30}]
},
"vconcat": [
{
"width": 2828, "height": 1195,
"resolve": {"scale": {"color": "independent"}},
"layer": [
{"data": {"name": "ema"},
 "mark": {"type": "line", "strokeWidth": 2.5, "clip": true, "interpolate": "monotone"},
 "encoding": {
  "x": {"field": "date", "type": "temporal", "scale": {"type": "utc", "domain": [1767126931200, 1780355808000], "nice": false},
        "axis": {"values": [1767225600000,1768089600000,1768953600000,1769904000000,1770768000000,1771632000000,1772323200000,1773187200000,1774051200000,1775001600000,1775865600000,1776729600000,1777593600000,1778457600000,1779321600000,1780272000000], "labels": false, "ticks": false, "domain": false, "grid": true, "gridColor": "#eef0f4", "gridWidth": 2, "title": null}},
  "y": {"field": "value", "type": "quantitative", "scale": {"domain": [51654, 101446], "nice": false, "zero": false},
        "axis": {"orient": "right", "values": [52000,56000,60000,64000,68000,72000,76000,80000,84000,88000,92000,96000,100000], "format": ",.3f", "labelExpr": "datum.value == 76000 ? '' : datum.label", "labelFontSize": 27, "labelColor": "#444444", "labelPadding": 19, "ticks": false, "tickSize": 0, "domain": false, "grid": true, "gridColor": "#eef0f4", "gridWidth": 2, "title": null, "labelOverlap": false}},
  "color": {"field": "series", "type": "nominal", "scale": {"domain": ["EMA 200","EMA 100","EMA 50"], "range": ["#2196F3","#2A23EE","#F23645"]}, "legend": null}
 }},
{"data": {"name": "candles"},
 "mark": {"type": "rule", "strokeWidth": 2.5, "clip": true},
 "encoding": {"x": {"field": "date", "type": "temporal"}, "y": {"field": "low", "type": "quantitative"}, "y2": {"field": "high"},
  "color": {"condition": {"test": "datum.close >= datum.open", "value": "#2E8A57"}, "value": "#E60000"}}},
{"data": {"name": "candles"},
 "mark": {"type": "bar", "width": 14, "clip": true},
 "encoding": {"x": {"field": "date", "type": "temporal"}, "y": {"field": "open", "type": "quantitative"}, "y2": {"field": "close"},
  "color": {"condition": {"test": "datum.close >= datum.open", "value": "#2E8A57"}, "value": "#E60000"}}},
{"data": {"name": "levels"},
 "mark": {"type": "rule", "strokeWidth": 3.5, "color": "#2962FF", "clip": true},
 "encoding": {"x": {"field": "start", "type": "temporal"}, "x2": {"datum": 1780355808000}, "y": {"field": "value", "type": "quantitative"}}},
{"data": {"name": "trend"},
 "mark": {"type": "line", "strokeWidth": 4.5, "color": "#000000", "clip": true, "strokeCap": "round"},
 "encoding": {"x": {"field": "date", "type": "temporal"}, "y": {"field": "price", "type": "quantitative"}, "detail": {"field": "id", "type": "nominal"}}},
{"data": {"name": "one"},
 "mark": {"type": "rule", "strokeDash": [2, 3], "strokeWidth": 2, "color": "#E60000"},
 "encoding": {"y": {"datum": 81159.13, "type": "quantitative"}}},
{"data": {"name": "one"}, "mark": {"type": "text", "text": "BTC/USDT (Binance) Spot, 1D", "align": "left", "baseline": "middle", "fontSize": 26, "color": "#4a4a4a"},
 "encoding": {"x": {"datum": 1767218584320, "type": "temporal"}, "y": {"datum": 99950, "type": "quantitative"}}},
{"data": {"name": "one"}, "mark": {"type": "text", "text": "O", "align": "left", "baseline": "middle", "fontSize": 26, "color": "#4a4a4a"},
 "encoding": {"x": {"datum": 1769026089600, "type": "temporal"}, "y": {"datum": 99950, "type": "quantitative"}}},
{"data": {"name": "one"}, "mark": {"type": "text", "text": "81,745.660", "align": "left", "baseline": "middle", "fontSize": 26, "color": "#E60000"},
 "encoding": {"x": {"datum": 1769124326400, "type": "temporal"}, "y": {"datum": 99950, "type": "quantitative"}}},
{"data": {"name": "one"}, "mark": {"type": "text", "text": "H", "align": "left", "baseline": "middle", "fontSize": 26, "color": "#4a4a4a"},
 "encoding": {"x": {"datum": 1769840064000, "type": "temporal"}, "y": {"datum": 99950, "type": "quantitative"}}},
{"data": {"name": "one"}, "mark": {"type": "text", "text": "81,788.000", "align": "left", "baseline": "middle", "fontSize": 26, "color": "#E60000"},
 "encoding": {"x": {"datum": 1769924304000, "type": "temporal"}, "y": {"datum": 99950, "type": "quantitative"}}},
{"data": {"name": "one"}, "mark": {"type": "text", "text": "L", "align": "left", "baseline": "middle", "fontSize": 26, "color": "#4a4a4a"},
 "encoding": {"x": {"datum": 1770649372800, "type": "temporal"}, "y": {"datum": 99950, "type": "quantitative"}}},
{"data": {"name": "one"}, "mark": {"type": "text", "text": "80,714.280", "align": "left", "baseline": "middle", "fontSize": 26, "color": "#E60000"},
 "encoding": {"x": {"datum": 1770719529600, "type": "temporal"}, "y": {"datum": 99950, "type": "quantitative"}}},
{"data": {"name": "one"}, "mark": {"type": "text", "text": "C", "align": "left", "baseline": "middle", "fontSize": 26, "color": "#4a4a4a"},
 "encoding": {"x": {"datum": 1771439932800, "type": "temporal"}, "y": {"datum": 99950, "type": "quantitative"}}},
{"data": {"name": "one"}, "mark": {"type": "text", "text": "81,159.130", "align": "left", "baseline": "middle", "fontSize": 26, "color": "#E60000"},
 "encoding": {"x": {"datum": 1771533504000, "type": "temporal"}, "y": {"datum": 99950, "type": "quantitative"}}},
{"data": {"name": "one"}, "mark": {"type": "text", "text": "-586.520 (−0.72%)", "align": "left", "baseline": "middle", "fontSize": 26, "color": "#E60000"},
 "encoding": {"x": {"datum": 1772221075200, "type": "temporal"}, "y": {"datum": 99950, "type": "quantitative"}}},
{"data": {"name": "one"}, "mark": {"type": "text", "text": "EMA (200, close, 0)", "align": "left", "baseline": "middle", "fontSize": 26, "color": "#4a4a4a"},
 "encoding": {"x": {"datum": 1767218584320, "type": "temporal"}, "y": {"datum": 98390, "type": "quantitative"}}},
{"data": {"name": "one"}, "mark": {"type": "text", "text": "82,894.188", "align": "left", "baseline": "middle", "fontSize": 26, "color": "#2196F3"},
 "encoding": {"x": {"datum": 1768441852800, "type": "temporal"}, "y": {"datum": 98390, "type": "quantitative"}}},
{"data": {"name": "one"}, "mark": {"type": "text", "text": "EMA (50, close, 0)", "align": "left", "baseline": "middle", "fontSize": 26, "color": "#4a4a4a"},
 "encoding": {"x": {"datum": 1767218584320, "type": "temporal"}, "y": {"datum": 96860, "type": "quantitative"}}},
{"data": {"name": "one"}, "mark": {"type": "text", "text": "76,256.573", "align": "left", "baseline": "middle", "fontSize": 26, "color": "#F23645"},
 "encoding": {"x": {"datum": 1768352947200, "type": "temporal"}, "y": {"datum": 96860, "type": "quantitative"}}},
{"data": {"name": "one"}, "mark": {"type": "text", "text": "EMA (100, close, 0)", "align": "left", "baseline": "middle", "fontSize": 26, "color": "#4a4a4a"},
 "encoding": {"x": {"datum": 1767218584320, "type": "temporal"}, "y": {"datum": 95333, "type": "quantitative"}}},
{"data": {"name": "one"}, "mark": {"type": "text", "text": "76,782.705", "align": "left", "baseline": "middle", "fontSize": 26, "color": "#2A23EE"},
 "encoding": {"x": {"datum": 1768413340800, "type": "temporal"}, "y": {"datum": 95333, "type": "quantitative"}}},
{"data": {"name": "tags"}, "transform": [{"filter": "datum.name != 'ema50'"}],
 "mark": {"type": "tick", "orient": "horizontal", "size": 179, "thickness": 36, "opacity": 1, "cornerRadius": 3},
 "encoding": {"x": {"datum": 1780774848000, "type": "temporal"}, "y": {"field": "value", "type": "quantitative"},
  "color": {"field": "name", "type": "nominal", "scale": {"domain": ["level1","ema200","last","ema100","level2","level3"], "range": ["#2962FF","#2196F3","#E60000","#2A23EE","#2962FF","#2962FF"]}, "legend": null}}},
{"data": {"name": "tags"}, "transform": [{"filter": "datum.name == 'ema50'"}],
 "mark": {"type": "tick", "orient": "horizontal", "size": 179, "thickness": 36, "opacity": 1, "cornerRadius": 3, "color": "#F23645", "yOffset": 24},
 "encoding": {"x": {"datum": 1780774848000, "type": "temporal"}, "y": {"field": "value", "type": "quantitative"}}},
{"data": {"name": "tags"}, "transform": [{"filter": "datum.name != 'ema50'"}],
 "mark": {"type": "text", "align": "left", "baseline": "middle", "fontSize": 27, "color": "#ffffff"},
 "encoding": {"x": {"datum": 1780444800000, "type": "temporal"}, "y": {"field": "value", "type": "quantitative"}, "text": {"field": "label", "type": "nominal"}}},
{"data": {"name": "tags"}, "transform": [{"filter": "datum.name == 'ema50'"}],
 "mark": {"type": "text", "align": "left", "baseline": "middle", "fontSize": 27, "color": "#ffffff", "yOffset": 24},
 "encoding": {"x": {"datum": 1780444800000, "type": "temporal"}, "y": {"field": "value", "type": "quantitative"}, "text": {"field": "label", "type": "nominal"}}}
]
},
{
"width": 2828, "height": 183,
"layer": [
{"data": {"name": "hist"},
 "transform": [{"window": [{"op": "lag", "field": "h", "as": "prev"}], "sort": [{"field": "date", "order": "ascending"}]}],
 "mark": {"type": "bar", "width": 16.5, "clip": true},
 "encoding": {
  "x": {"field": "date", "type": "temporal", "scale": {"type": "utc", "domain": [1767126931200, 1780355808000], "nice": false},
        "axis": {"values": [1767225600000,1768089600000,1768953600000,1769904000000,1770768000000,1771632000000,1772323200000,1773187200000,1774051200000,1775001600000,1775865600000,1776729600000,1777593600000,1778457600000,1779321600000,1780272000000], "labels": false, "ticks": false, "domain": false, "grid": true, "gridColor": "#eef0f4", "gridWidth": 2, "title": null}},
  "y": {"field": "h", "type": "quantitative", "scale": {"domain": [-6826, 3065], "nice": false},
        "axis": {"orient": "right", "values": [-4000, 0], "format": ",.3f", "labelExpr": "datum.value == 0 ? '' : datum.label", "labelFontSize": 27, "labelColor": "#444444", "labelPadding": 19, "ticks": false, "tickSize": 0, "domain": false, "grid": true, "gridColor": "#eef0f4", "gridWidth": 2, "title": null}},
  "color": {"condition": [
     {"test": "datum.h >= 0 && (datum.prev == null || datum.h >= datum.prev)", "value": "#26A69A"},
     {"test": "datum.h >= 0", "value": "#B2DFDB"},
     {"test": "datum.prev != null && datum.h > datum.prev", "value": "#FFCDD2"}],
   "value": "#FF5252"}
 }},
{"data": {"name": "macd"},
 "mark": {"type": "line", "strokeWidth": 2.5, "color": "#2196F3", "clip": true, "interpolate": "monotone"},
 "encoding": {"x": {"field": "date", "type": "temporal"}, "y": {"field": "macd", "type": "quantitative"}}},
{"data": {"name": "macd"},
 "mark": {"type": "line", "strokeWidth": 2.5, "color": "#FF6D00", "clip": true, "interpolate": "monotone"},
 "encoding": {"x": {"field": "date", "type": "temporal"}, "y": {"field": "signal", "type": "quantitative"}}},
{"data": {"name": "one"}, "mark": {"type": "text", "text": "MACD (12, 26, close, 9)", "align": "left", "baseline": "middle", "fontSize": 26, "color": "#4a4a4a"},
 "encoding": {"x": {"datum": 1767220450560, "type": "temporal"}, "y": {"datum": 1081, "type": "quantitative"}}},
{"data": {"name": "one"}, "mark": {"type": "text", "text": "34.400", "align": "left", "baseline": "middle", "fontSize": 26, "color": "#ACE5DC"},
 "encoding": {"x": {"datum": 1768675219200, "type": "temporal"}, "y": {"datum": 1081, "type": "quantitative"}}},
{"data": {"name": "one"}, "mark": {"type": "text", "text": "1,915.533", "align": "left", "baseline": "middle", "fontSize": 26, "color": "#2196F3"},
 "encoding": {"x": {"datum": 1769161737600, "type": "temporal"}, "y": {"datum": 1081, "type": "quantitative"}}},
{"data": {"name": "one"}, "mark": {"type": "text", "text": "1,881.134", "align": "left", "baseline": "middle", "fontSize": 26, "color": "#FF6D00"},
 "encoding": {"x": {"datum": 1769774486400, "type": "temporal"}, "y": {"datum": 1081, "type": "quantitative"}}},
{"data": {"name": "one"}, "mark": {"type": "tick", "orient": "horizontal", "size": 163, "thickness": 37, "opacity": 1, "color": "#FF6D00", "cornerRadius": 3},
 "encoding": {"x": {"datum": 1780732512000, "type": "temporal"}, "y": {"datum": 1881.134, "type": "quantitative"}}},
{"data": {"name": "one"}, "mark": {"type": "text", "text": "1,881.134", "align": "left", "baseline": "middle", "fontSize": 27, "color": "#ffffff"},
 "encoding": {"x": {"datum": 1780444800000, "type": "temporal"}, "y": {"datum": 1881.134, "type": "quantitative"}}},
{"data": {"name": "one"}, "mark": {"type": "tick", "orient": "horizontal", "size": 121, "thickness": 37, "opacity": 1, "color": "#ACE5DC", "cornerRadius": 3},
 "encoding": {"x": {"datum": 1780634016000, "type": "temporal"}, "y": {"datum": 34.4, "type": "quantitative"}}},
{"data": {"name": "one"}, "mark": {"type": "text", "text": "34.400", "align": "left", "baseline": "middle", "fontSize": 27, "color": "#131722"},
 "encoding": {"x": {"datum": 1780444800000, "type": "temporal"}, "y": {"datum": 34.4, "type": "quantitative"}}},
{"data": {"name": "one"}, "mark": {"type": "rule", "strokeWidth": 3, "color": "#e0e3eb"},
 "encoding": {"x": {"datum": 1767126931200, "type": "temporal"}, "x2": {"datum": 1781324352000}, "y": {"datum": 3065, "type": "quantitative"}}}
]
},
{
"width": 2828, "height": 175,
"layer": [
{"data": {"name": "one"}, "mark": {"type": "rect", "color": "#7E57C2", "opacity": 0.1},
 "encoding": {"x": {"datum": 1767126931200, "type": "temporal"}, "x2": {"datum": 1780355808000}, "y": {"datum": 70, "type": "quantitative"}, "y2": {"datum": 30}}},
{"data": {"name": "rsiLevels"}, "mark": {"type": "rule", "strokeDash": [10, 7], "strokeWidth": 2.5, "color": "#787B86"},
 "encoding": {"y": {"field": "level", "type": "quantitative"}}},
{"data": {"name": "rsi"},
 "mark": {"type": "line", "strokeWidth": 2.5, "color": "#7E57C2", "clip": true},
 "encoding": {
  "x": {"field": "date", "type": "temporal", "scale": {"type": "utc", "domain": [1767126931200, 1780355808000], "nice": false},
        "axis": {"values": [1767225600000,1768089600000,1768953600000,1769904000000,1770768000000,1771632000000,1772323200000,1773187200000,1774051200000,1775001600000,1775865600000,1776729600000,1777593600000,1778457600000,1779321600000,1780272000000],
                 "labelExpr": "utcdate(datum.value) == 1 ? (utcmonth(datum.value) == 0 ? utcFormat(datum.value, '%Y') : utcFormat(datum.value, '%b')) : utcFormat(datum.value, '%d')",
                 "labelFontSize": 25, "labelColor": "#3a3a3a", "labelPadding": 34, "labelBaseline": "middle", "labelFlush": false, "labelOverlap": false,
                 "labelFontWeight": {"condition": {"test": "utcmonth(datum.value) == 0 && utcdate(datum.value) == 1", "value": "bold"}, "value": "normal"},
                 "ticks": false, "tickSize": 0, "domain": false, "grid": true, "gridColor": "#eef0f4", "gridWidth": 2, "title": null}},
  "y": {"field": "rsi", "type": "quantitative", "scale": {"domain": [10.06, 77.17], "nice": false, "zero": false},
        "axis": {"orient": "right", "values": [40], "format": ".2f", "labelFontSize": 27, "labelColor": "#444444", "labelPadding": 19, "ticks": false, "tickSize": 0, "domain": false, "grid": true, "gridColor": "#e6e4ee", "gridWidth": 2, "title": null}}
 }},
{"data": {"name": "one"}, "mark": {"type": "text", "text": "RSI (14)", "align": "left", "baseline": "middle", "fontSize": 26, "color": "#4a4a4a"},
 "encoding": {"x": {"datum": 1767220450560, "type": "temporal"}, "y": {"datum": 63.37, "type": "quantitative"}}},
{"data": {"name": "one"}, "mark": {"type": "text", "text": "62.59", "align": "left", "baseline": "middle", "fontSize": 26, "color": "#7E57C2"},
 "encoding": {"x": {"datum": 1767739680000, "type": "temporal"}, "y": {"datum": 63.37, "type": "quantitative"}}},
{"data": {"name": "one"}, "mark": {"type": "tick", "orient": "horizontal", "size": 103, "thickness": 38, "opacity": 1, "color": "#7E57C2", "cornerRadius": 3},
 "encoding": {"x": {"datum": 1780591680000, "type": "temporal"}, "y": {"datum": 62.59, "type": "quantitative"}}},
{"data": {"name": "one"}, "mark": {"type": "text", "text": "62.59", "align": "left", "baseline": "middle", "fontSize": 27, "color": "#ffffff"},
 "encoding": {"x": {"datum": 1780444800000, "type": "temporal"}, "y": {"datum": 62.59, "type": "quantitative"}}},
{"data": {"name": "one"}, "mark": {"type": "rule", "strokeWidth": 3, "color": "#e0e3eb"},
 "encoding": {"x": {"datum": 1767126931200, "type": "temporal"}, "x2": {"datum": 1781324352000}, "y": {"datum": 77.17, "type": "quantitative"}}},
{"data": {"name": "one"}, "mark": {"type": "rule", "strokeWidth": 3, "color": "#e0e3eb"},
 "encoding": {"x": {"datum": 1767126931200, "type": "temporal"}, "x2": {"datum": 1781324352000}, "y": {"datum": -14.1, "type": "quantitative"}}}
]
}
]
}
